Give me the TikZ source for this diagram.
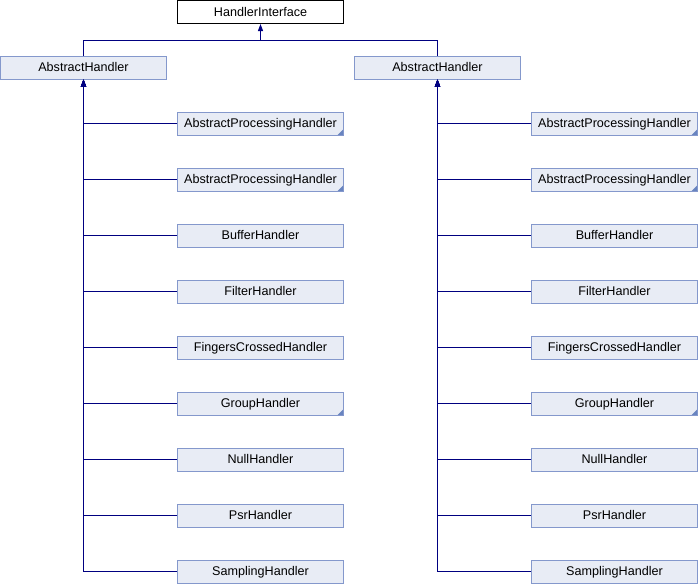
\documentclass[tikz,border=0pt]{standalone}
\usepackage{fontspec}
\setmainfont{Liberation Sans}
\usetikzlibrary{arrows.meta}
\definecolor{boxfill}{RGB}{232,236,245}
\definecolor{boxline}{RGB}{132,152,204}
\definecolor{edgecol}{RGB}{0,0,128}
\definecolor{cornercol}{RGB}{104,132,192}

\begin{document}
\begin{tikzpicture}[x=1pt,y=-1pt,
  cls/.style={draw=boxline, fill=boxfill, line width=1pt,
    minimum width=166pt, minimum height=23pt, inner sep=0pt,
    text height=11pt, text depth=3pt,
    font=\fontsize{12.6}{15}\selectfont},
  iface/.style={cls, draw=black, fill=white},
  more/.style={path picture={\fill[cornercol] (path picture bounding box.south east)
    -- ++(-6pt,0pt) -- ++(6pt,6pt) -- cycle;}},
  leaf/.style={},
  edge/.style={draw=edgecol, line width=1pt},
  inherit/.style={edge, -{Triangle[length=7pt,width=5pt]}}
]
\useasboundingbox (0,0) rectangle (698,584);

% root interface and the two base classes
\node[iface] (hi) at (260.5,12) {HandlerInterface};
\node[cls] (absL) at (83.5,67.5) {AbstractHandler};
\node[cls] (absR) at (437.5,67.5) {AbstractHandler};

\coordinate (join) at (260.5,40);
\draw[edge] (absL.north) |- (join);
\draw[edge] (absR.north) |- (join);
\draw[inherit] (join) -- (hi.south);

% derived handlers, one column under each base class
\foreach \txt/\sty [count=\i] in {
    AbstractProcessingHandler/more,
    AbstractProcessingHandler/more,
    BufferHandler/leaf,
    FilterHandler/leaf,
    FingersCrossedHandler/leaf,
    GroupHandler/more,
    NullHandler/leaf,
    PsrHandler/leaf,
    SamplingHandler/leaf} {
  \node[cls,\sty] (l\i) at (260.5,{123.5+56*(\i-1)}) {\txt};
  \node[cls,\sty] (r\i) at (614.5,{123.5+56*(\i-1)}) {\txt};
  \draw[inherit] (l\i.west) -| (absL.south);
  \draw[inherit] (r\i.west) -| (absR.south);
}
\end{tikzpicture}
\end{document}
